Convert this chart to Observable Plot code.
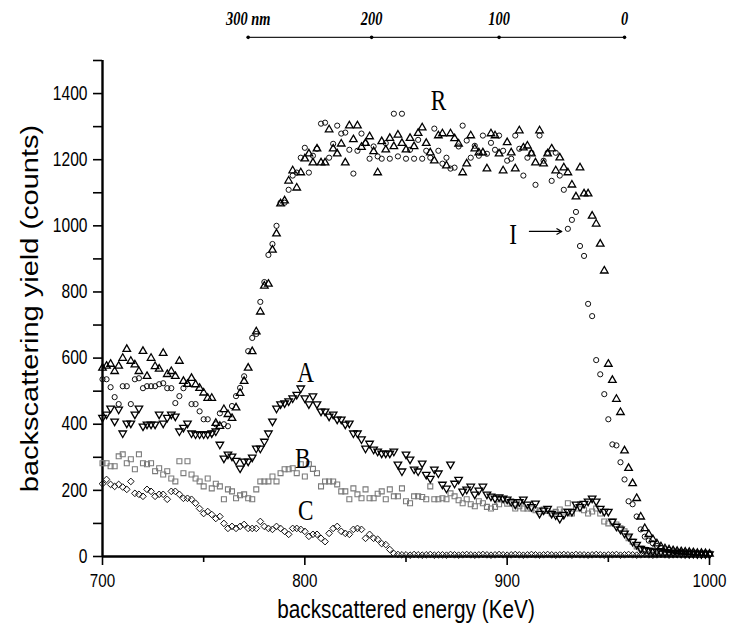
<!DOCTYPE html>
<html><head><meta charset="utf-8">
<script src="https://cdn.jsdelivr.net/npm/d3@7"></script>
<script src="https://cdn.jsdelivr.net/npm/@observablehq/plot@0.6"></script>
<style>body{margin:0;background:#fff}#chart{width:731px;height:632px}</style>
</head><body><div id="chart"></div>
<script>
// channel calibration of the spectra (keV): first channel and channel width
const energyStart = 700, energyStep = 2;

// R: random spectrum (up triangles)
const seriesR = [
570,576,582,560,576, 600,627,591,580,560,
621,545,600,575,567, 615,551,560,545,591,
530,521,539,520,509, 495,479,479,403,394,
445,430,418,450,494, 530,570,620,680,740,
818,824,927,976,1067, 1076,1136,1167,1115,1161,
1203,1218,1191,1233,1191, 1191,1291,1233,1218,1248,
1191,1303,1261,1303,1238, 1250,1270,1225,1161,1255,
1230,1265,1240,1275,1250, 1230,1265,1240,1280,1297,
1250,1221,1197,1273,1279, 1182,1279,1264,1248,1161,
1188,1273,1233,1221,1221, 1173,1279,1273,1218,1167,
1252,1221,1173,1288,1236, 1242,1218,1191,1288,1188,
1218,1233,1167,1206,1176, 1161,1124,1088,1176,1097,
1097,1030,1006,945,864, 582,533,476,436,320,
267,221,176,120,85, 67,52,39,30,24,
21,18,16,15,14, 13,12,10,10,9,
8];

// I: circles
const seriesI = [
536,536,512,482,461, 515,515,461,536,539,
509,515,515,515,521, 524,509,509,464,485,
509,521,461,461,439, 415,415,373,400,433,
400,394,455,485,510, 545,621,661,673,770,
830,912,945,1000,1070, 1070,1109,1152,1161,1206,
1236,1161,1212,1233,1309, 1312,1206,1248,1303,1279,
1282,1230,1158,1227,1279, 1250,1203,1240,1210,1203,
1250,1203,1339,1210,1339, 1203,1230,1203,1260,1203,
1227,1206,1294,1227,1188, 1206,1173,1176,1240,1303,
1258,1206,1242,1212,1273, 1218,1251,1230,1273,1227,
1197,1203,1273,1233,1152, 1206,1221,1124,1273,1197,
1221,1136,1221,1152,1109, 991,1018,1042,939,909,
764,727,594,551,491, 415,339,336,285,233,
167,158,121,82,60, 48,40,32,26,22,
20,18,15,14,13, 12,11,10,9,9,
8];

// A: down triangles
const seriesA = [
420,430,448,409,445, 373,403,403,430,448,
394,400,400,400,430, 403,420,430,424,379,
390,403,373,370,370, 370,370,373,379,339,
297,309,303,290,267, 288,288,300,327,327,
348,373,409,448,461, 464,470,479,490,509,
479,461,485,461,439, 439,424,430,415,415,
400,403,373,373,355, 327,342,324,318,312,
312,312,318,279,258, 309,294,264,258,282,
248,236,264,252,218, 206,279,221,233,197,
203,212,188,200,212, 188,182,176,180,176,
173,165,158,165,173, 158,150,161,130,140,
145,130,125,115,127, 136,136,158,150,160,
167,176,167,145,136, 136,106,91,82,70,
61,45,36,24,20, 18,16,15,14,13,
12,12,11,10,10, 9,9,8,8,8,
7];

// B: squares (grey)
const seriesB = [
282,282,273,273,303, 309,282,294,264,309,
282,279,282,258,267, 248,258,236,227,288,
252,288,248,236,227, 212,236,206,220,212,
173,203,197,176,185, 188,176,173,203,227,
227,227,242,227,252, 264,264,267,252,279,
242,279,265,252,212, 227,227,227,218,197,
197,173,206,188,176, 203,176,176,190,197,
173,203,182,182,206, 167,161,182,182,180,
173,212,173,173,176, 173,191,182,170,161,
173,158,152,167,161, 150,145,150,158,173,
160,167,145,152,145, 145,145,140,136,142,
138,130,135,142,136, 161,130,145,158,140,
130,136,145,130,106, 100,106,97,85,76,
55,45,30,24,20, 18,17,16,15,14,
14,13,13,12,12, 11,11,10,10,10,
9];

// C: diamonds
const seriesC = [
220,233,218,212,218, 210,203,227,191,188,
182,203,197,182,188, 188,173,197,197,188,
176,176,173,161,145, 130,136,127,115,121,
100,85,91,85,91, 97,85,85,85,106,
91,85,82,91,85, 76,67,85,85,82,
76,61,67,67,55, 45,70,85,91,76,
70,67,82,85,82, 55,67,55,52,39,
36,21,9,6,5, 5,4,6,5,4,
5,6,4,5,5, 4,6,5,4,5,
6,5,4,5,6, 5,4,5,6,5,
4,5,6,5,4, 5,6,5,4,5,
6,5,4,5,6, 5,4,6,5,5,
4,5,6,5,4, 5,5,6,4,5,
6,5,4,5,6, 5,4,5,6,5,
4,5,6,5,4, 5,6,5,4,5,
5];

// axis ticks
const xMajor = [700, 800, 900, 1000];
const xMinor = [750, 850, 950];
const yTicks = [0,100,200,300,400,500,600,700,800,900,1000,1100,1200,1300,1400,1500];
const yLabels = [0,200,400,600,800,1000,1200,1400];

// depth scale on top (nm -> energy in keV)
const depthLabels = ["300 nm", "200", "100", "0"];
const depthEnergy = [772, 833, 896, 958];
const depthBarY = 1570;

// curve labels
const annotText = ["R", "A", "B", "C", "I"];
const annotE = [866, 800.4, 798.9, 800.4, 903];
const annotV = [1379, 556, 296, 139, 974];
const arrowI = {x1: 911, x2: 927, y: 983};

const xTitle = "backscattered energy (KeV)";
const yTitle = "backscattering yield (counts)";

const sans = "Liberation Sans, Arial, sans-serif";
const serif = "Liberation Serif, Times New Roman, serif";

const all = [seriesR, seriesI, seriesA, seriesB, seriesC];
const energies = seriesR.map((_, i) => energyStart + energyStep * i);
function rows(s) { return s.map((v, i) => ({e: energies[i], v})); }

const triDown = {
  draw(ctx, size) {
    const y = -Math.sqrt(size / (Math.sqrt(3) * 3));
    ctx.moveTo(0, -y * 2);
    ctx.lineTo(-Math.sqrt(3) * y, y);
    ctx.lineTo(Math.sqrt(3) * y, y);
    ctx.closePath();
  }
};

const plot = Plot.plot({
  width: 731, height: 632,
  marginLeft: 102, marginRight: 22, marginTop: 60, marginBottom: 76,
  style: {fontFamily: sans, background: "#fff", overflow: "visible", color: "#000"},
  x: {domain: [700, 1000]},
  y: {domain: [0, 1500]},
  marks: [
    Plot.axisY({ticks: yTicks, tickSize: 9, tickPadding: 6, fontSize: 19.5, strokeWidth: 1.6,
      tickFormat: d => yLabels.includes(d) ? String(d) : "", label: null}),
    Plot.axisX({ticks: xMajor, tickSize: 9, tickPadding: 8, fontSize: 19, strokeWidth: 1.6,
      tickFormat: d => String(d), label: null}),
    Plot.axisX({ticks: xMinor, tickSize: 6, tickFormat: () => "", strokeWidth: 1.6, label: null}),
    Plot.ruleY([0], {strokeWidth: 2.4}),
    Plot.ruleX([700], {strokeWidth: 2.4}),
    Plot.dot(rows(seriesC), {x: "e", y: "v", symbol: "diamond2", r: 3, stroke: "#111", strokeWidth: 1}),
    Plot.dot(rows(seriesB), {x: "e", y: "v", symbol: "square", r: 2.8, stroke: "#7a7a7a", strokeWidth: 1.1}),
    Plot.dot(rows(seriesA), {x: "e", y: "v", symbol: triDown, r: 2.8, stroke: "#000", strokeWidth: 1.3}),
    Plot.dot(rows(seriesI), {x: "e", y: "v", symbol: "circle", r: 2.6, stroke: "#111", strokeWidth: 1}),
    Plot.dot(rows(seriesR), {x: "e", y: "v", symbol: "triangle", r: 2.8, stroke: "#000", strokeWidth: 1.3}),
    Plot.text(annotText, {x: (d, i) => annotE[i], y: (d, i) => annotV[i], text: d => d,
      fontFamily: serif, fontSize: 29, fill: "#000"}),
    Plot.arrow([0], {x1: arrowI.x1, x2: arrowI.x2, y1: arrowI.y, y2: arrowI.y, bend: 0,
      headLength: 7, strokeWidth: 1.2, stroke: "#000"}),
    Plot.link([0], {x1: depthEnergy[0], x2: depthEnergy[3], y1: depthBarY, y2: depthBarY, strokeWidth: 1.3, stroke: "#222"}),
    Plot.dot(depthEnergy, {x: d => d, y: depthBarY, r: 1.8, fill: "#000"}),
    Plot.text(depthEnergy, {x: d => d, y: depthBarY, dy: -18, text: (d, i) => depthLabels[i],
      fontFamily: serif, fontStyle: "italic", fontWeight: "bold", fontSize: 18, fill: "#000"}),
    Plot.text([xTitle], {frameAnchor: "bottom", dy: 61, text: d => d, fontSize: 26, fill: "#000", textAnchor: "middle"}),
    Plot.text([yTitle], {frameAnchor: "left", dx: -72, rotate: -90, text: d => d, fontSize: 29, fill: "#000", textAnchor: "middle"})
  ]
});

// the reference is horizontally compressed: squeeze text glyphs in screen-x
const SX = 0.8;
plot.querySelectorAll("text").forEach(t => {
  const tr = t.getAttribute("transform") || "";
  const rotated = /rotate/.test(tr);
  if (rotated) {
    const y = t.getAttribute("y");
    if (y != null && !isNaN(+y)) t.setAttribute("y", +y / SX);
    t.setAttribute("transform", tr + ` scale(1,${SX})`);
  } else {
    const x = t.getAttribute("x");
    if (x != null && !isNaN(+x)) t.setAttribute("x", +x / SX);
    t.setAttribute("transform", tr + ` scale(${SX},1)`);
  }
});

if (all.some(s => s.length !== seriesR.length)) {
  const p = document.createElement("p");
  p.textContent = "length mismatch: " + all.map(s => s.length).join(",");
  document.body.appendChild(p);
}
document.getElementById("chart").appendChild(plot);
</script>
</body></html>
